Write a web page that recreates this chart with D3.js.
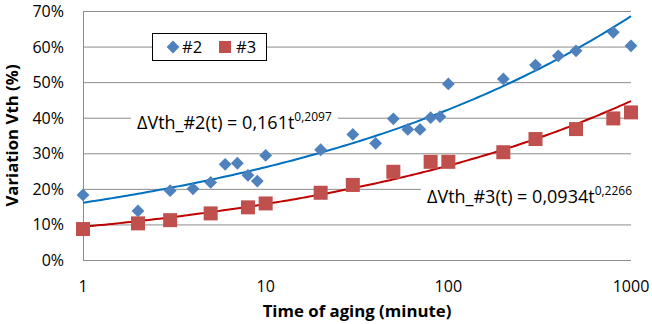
<!DOCTYPE html>
<html>
<head>
<meta charset="utf-8">
<script src="https://cdn.jsdelivr.net/npm/d3@7"></script>
<style>
  body { margin: 0; background: #fff; }
  text { font-family: "Open Sans", sans-serif; fill: #000; }
</style>
</head>
<body>
<div id="chart"></div>
<script>
// series #2 (diamonds) and #3 (squares), time in minutes, variation in %
var t2 = [1, 2, 3, 4, 5, 6, 7, 8, 9, 10, 20, 30, 40, 50, 60, 70, 80, 90, 100, 200, 300, 400, 500, 800, 1000];
var v2 = [18.3, 13.8, 19.5, 20.0, 21.8, 26.9, 27.2, 23.8, 22.2, 29.4, 31.0, 35.3, 32.8, 39.7, 36.7, 36.7, 40.0, 40.3, 49.5, 50.9, 54.8, 57.4, 58.8, 64.0, 60.2];
var t3 = [1, 2, 3, 5, 8, 10, 20, 30, 50, 80, 100, 200, 300, 500, 800, 1000];
var v3 = [8.7, 10.3, 11.2, 13.1, 14.8, 15.9, 18.9, 21.1, 24.8, 27.6, 27.6, 30.3, 34.0, 36.8, 39.8, 41.5];

// power trendlines  y = a * t^b
var fit2 = {a: 0.161, b: 0.2097, label: "0,161", exp: "0,2097"};
var fit3 = {a: 0.0934, b: 0.2266, label: "0,0934", exp: "0,2266"};

var xTicks = [1, 10, 100, 1000];
var yTicks = [0, 10, 20, 30, 40, 50, 60, 70];

var W = 652, H = 324;
var margin = {top: 11, right: 21, bottom: 64, left: 83};

var svg = d3.select("#chart").append("svg")
  .attr("width", W).attr("height", H);

var x = d3.scaleLog().domain([1, 1000]).range([margin.left, W - margin.right]);
var y = d3.scaleLinear().domain([0, 70]).range([H - margin.bottom, margin.top]);

// gridlines
svg.append("g").selectAll("line").data(yTicks.slice(1)).enter().append("line")
  .attr("x1", x(1)).attr("x2", x(1000))
  .attr("y1", function(d) { return y(d) + 0.5; }).attr("y2", function(d) { return y(d) + 0.5; })
  .attr("stroke", "#8c8c8c").attr("stroke-width", 1);

// axes lines
svg.append("line").attr("x1", x(1) + 0.5).attr("x2", x(1) + 0.5)
  .attr("y1", y(70)).attr("y2", y(0)).attr("stroke", "#8c8c8c");
svg.append("line").attr("x1", x(1)).attr("x2", x(1000))
  .attr("y1", y(0) + 0.5).attr("y2", y(0) + 0.5).attr("stroke", "#8c8c8c");

// y tick labels
svg.append("g").selectAll("text").data(yTicks).enter().append("text")
  .attr("x", 64).attr("y", function(d) { return y(d) + 6; })
  .attr("text-anchor", "end").style("font-size", "16px")
  .text(function(d) { return d + "%"; });

// x tick labels
svg.append("g").selectAll("text").data(xTicks).enter().append("text")
  .attr("x", function(d) { return x(d); }).attr("y", 292)
  .attr("text-anchor", "middle").style("font-size", "16px")
  .text(function(d) { return d; });

// axis titles
svg.append("text").attr("x", (x(1) + x(1000)) / 2).attr("y", 317)
  .attr("text-anchor", "middle").style("font-size", "16.8px").style("font-weight", "bold")
  .text("Time of aging (minute)");
svg.append("text").attr("transform", "translate(18," + y(35) + ") rotate(-90)")
  .attr("text-anchor", "middle").style("font-size", "16.8px").style("font-weight", "bold")
  .text("Variation Vth (%)");

// trendlines
var tt = d3.range(0, 3.001, 0.02).map(function(e) { return Math.pow(10, e); });
function trend(f, color) {
  var line = d3.line()
    .x(function(t) { return x(t); })
    .y(function(t) { return y(100 * f.a * Math.pow(t, f.b)); });
  svg.append("path").datum(tt).attr("d", line)
    .attr("fill", "none").attr("stroke", color).attr("stroke-width", 2);
}
trend(fit2, "#0070c0");
trend(fit3, "#c00000");

// markers
var diamond = d3.symbol().type(d3.symbolSquare).size(82);
svg.append("g").selectAll("path").data(t2).enter().append("path")
  .attr("d", diamond)
  .attr("transform", function(d, i) { return "translate(" + x(d) + "," + y(v2[i]) + ") rotate(45)"; })
  .attr("fill", "#4f81bd");
svg.append("g").selectAll("rect").data(t3).enter().append("rect")
  .attr("x", function(d) { return x(d) - 7; })
  .attr("y", function(d, i) { return y(v3[i]) - 7; })
  .attr("width", 14).attr("height", 14)
  .attr("fill", "#c0504d");

// equation labels
function eq(px, py, name, f) {
  var g = svg.append("g");
  var txt = g.append("text").attr("x", px).attr("y", py).style("font-size", "18px");
  txt.append("tspan").text("\u0394Vth_" + name + "(t) = " + f.label + "t");
  txt.append("tspan").attr("dy", -8.5).style("font-size", "12px").text(f.exp);
  var bb = txt.node().getBBox();
  g.insert("rect", "text").attr("x", bb.x - 6).attr("y", bb.y - 1)
    .attr("width", bb.width + 12).attr("height", bb.height + 2).attr("fill", "#fff");
}
eq(137, 129, "#2", fit2);
eq(427, 203, "#3", fit3);

// legend
var lg = svg.append("g");
lg.append("rect").attr("x", 152.5).attr("y", 33.5).attr("width", 114).attr("height", 27)
  .attr("fill", "#fff").attr("stroke", "#000");
lg.append("path").attr("d", diamond).attr("transform", "translate(173,47) rotate(45)").attr("fill", "#4f81bd");
lg.append("text").attr("x", 182).attr("y", 53).style("font-size", "16.5px").text("#2");
lg.append("rect").attr("x", 219).attr("y", 41).attr("width", 12).attr("height", 12).attr("fill", "#c0504d");
lg.append("text").attr("x", 236).attr("y", 53).style("font-size", "16.5px").text("#3");
</script>
</body>
</html>
